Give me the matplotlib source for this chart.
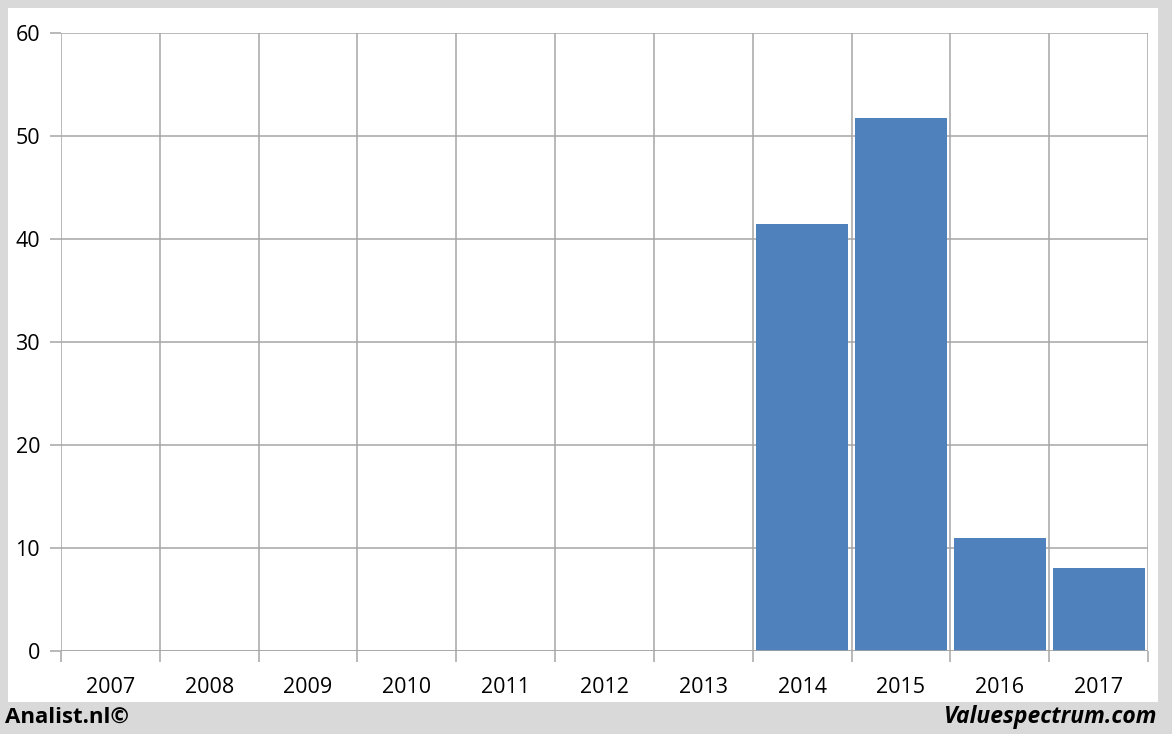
import matplotlib.pyplot as plt
from matplotlib.patches import Rectangle
import numpy as np

# data
years = ['2007', '2008', '2009', '2010', '2011', '2012', '2013',
         '2014', '2015', '2016', '2017']
values = [0, 0, 0, 0, 0, 0, 0, 41.5, 51.7, 11.0, 8.1]

plt.rcParams['font.family'] = ['Open Sans', 'DejaVu Sans']

fig = plt.figure(figsize=(11.72, 7.34), dpi=100)
fig.patch.set_facecolor('#d9d9d9')
fig.patches.append(Rectangle((8 / 1172, 1 - 702 / 734), 1150 / 1172, 694 / 734,
                             transform=fig.transFigure, facecolor='white',
                             edgecolor='none', zorder=-5))

ax = fig.add_axes([61 / 1172, 83 / 734, 1087 / 1172, 618 / 734])
ax.set_zorder(2)
ax.set_facecolor('none')
x = np.arange(len(years))
ax.bar(x, values, width=0.93, color='#4f81bd', zorder=3)

ax.set_xlim(-0.5, len(years) - 0.5)
ax.set_ylim(0, 60)
ax.set_yticks(range(0, 61, 10))
ax.set_xticks(x)
ax.set_xticklabels(years)
ax.set_xticks(np.arange(-0.5, len(years), 1), minor=True)

grid_c = '#a6a6a6'
ax.grid(axis='y', color=grid_c, linewidth=1.1, zorder=1)
ax.grid(axis='x', which='minor', color=grid_c, linewidth=1.1, zorder=1)
ax.grid(axis='x', which='major', visible=False)
for s in ax.spines.values():
    s.set_visible(False)
ax.axhline(0, color=grid_c, linewidth=1.1, zorder=4)

ax.tick_params(axis='x', which='major', length=0, pad=19, labelsize=15.5)
ax.tick_params(axis='x', which='minor', length=8, color=grid_c, width=1.1)
ax.tick_params(axis='y', length=8, color=grid_c, width=1.1, pad=7, labelsize=15.5)

fig.text(5 / 1172, 1 - 717 / 734, 'Analist.nl©', fontsize=16, fontweight='bold',
         ha='left', va='center')
fig.text(1157 / 1172, 1 - 717 / 734, 'Valuespectrum.com', fontsize=16.5,
         fontweight='bold', style='italic', ha='right', va='center')

fig.savefig('out.png', dpi=100, facecolor=fig.get_facecolor())
